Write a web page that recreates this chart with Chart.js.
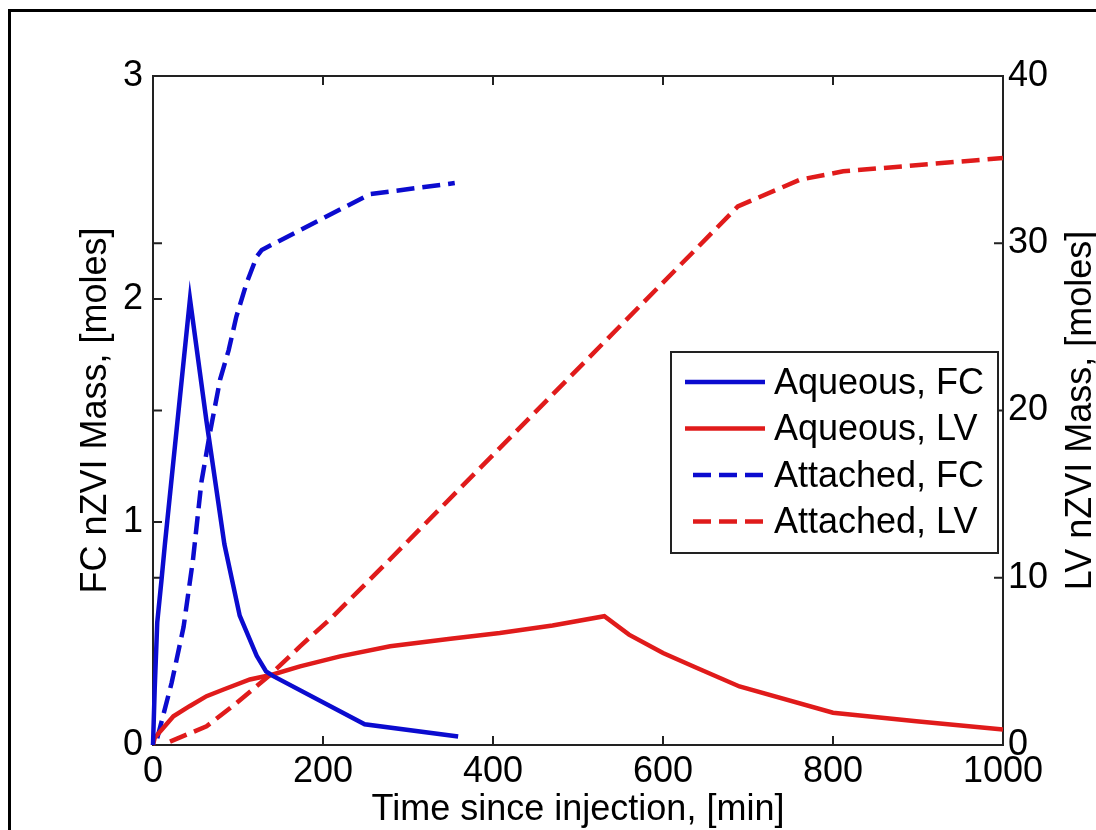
<!DOCTYPE html>
<html lang="en">
<head>
  <meta charset="UTF-8">
  <title>nZVI Mass vs Time</title>
  <script src="https://cdn.jsdelivr.net/npm/chart.js"></script>
  <style>
    body {
      margin: 0;
      background: #fff;
      overflow: hidden;
    }
    /* figure frame, only its left and top edges fall inside the window */
    .frame {
      position: absolute;
      left: 8px;
      top: 9px;
      width: 1100px;
      height: 840px;
      border: 3px solid #000;
    }
    canvas {
      position: absolute;
      left: 0;
      top: 0;
    }
  </style>
</head>
<body>
<div class="frame"></div>
<canvas id="chart" width="1096" height="830"></canvas>

<script>
  // Aqueous FC, left axis [moles]
  const fcAqueousTime = [0, 2, 5, 10, 14, 43.5, 63, 84, 102, 122, 133, 141, 249, 359];
  const fcAqueousMass = [0, 0.25, 0.55, 0.74, 0.9, 2.0, 1.45, 0.9, 0.58, 0.40, 0.33, 0.31, 0.093, 0.038];

  // Attached FC, left axis [moles]
  const fcAttachedTime = [5, 22, 36, 47, 57, 67, 79, 89, 98, 110, 122, 128, 255, 355];
  const fcAttachedMass = [0.03, 0.28, 0.53, 0.83, 1.18, 1.40, 1.64, 1.77, 1.92, 2.07, 2.19, 2.22, 2.47, 2.52];

  // Aqueous LV, right axis [moles]
  const lvAqueousTime = [0, 2, 24, 43, 63, 83, 114, 140, 173, 220, 279, 350, 408, 470, 531, 560, 600, 640, 690, 800, 898, 1000];
  const lvAqueousMass = [0, 0.43, 1.72, 2.32, 2.92, 3.32, 3.92, 4.2, 4.7, 5.3, 5.9, 6.35, 6.7, 7.15, 7.7, 6.6, 5.5, 4.6, 3.5, 1.93, 1.42, 0.93];

  // Attached LV, right axis [moles]
  const lvAttachedTime = [20, 63, 98, 138, 173, 212, 275, 632, 688, 761, 812, 1000];
  const lvAttachedMass = [0.2, 1.12, 2.5, 4.2, 5.9, 7.7, 10.9, 29.3, 32.2, 33.8, 34.3, 35.1];

  const timeTicks = [0, 200, 400, 600, 800, 1000];
  const fcTicks = [0, 1, 2, 3];
  const lvTicks = [0, 10, 20, 30, 40];

  const BLUE = "#0b0bcf";
  const RED = "#e01b1b";
  const FONT = "'Liberation Sans', Arial, sans-serif";

  Chart.defaults.font.family = FONT;
  Chart.defaults.color = "#000";

  function toPoints(xs, ys) {
    return xs.map((x, i) => ({ x, y: ys[i] }));
  }

  function series(label, xs, ys, color, dash, axis) {
    return {
      label,
      data: toPoints(xs, ys),
      borderColor: color,
      backgroundColor: color,
      borderWidth: 4.5,
      borderDash: dash,
      pointRadius: 0,
      tension: 0,
      fill: false,
      clip: false,
      yAxisID: axis
    };
  }

  // axis box plus inward tick marks on all four sides
  const axisBox = {
    id: "axisBox",
    beforeDatasetsDraw(chart) {
      const { ctx, chartArea: a, scales } = chart;
      const len = 9;
      ctx.save();
      ctx.strokeStyle = "#222";
      ctx.lineWidth = 2;
      ctx.beginPath();
      timeTicks.forEach(t => {
        const px = scales.x.getPixelForValue(t);
        if (px <= a.left + 1 || px >= a.right - 1) return;
        ctx.moveTo(px, a.bottom); ctx.lineTo(px, a.bottom - len);
        ctx.moveTo(px, a.top); ctx.lineTo(px, a.top + len);
      });
      fcTicks.forEach(v => {
        const py = scales.y.getPixelForValue(v);
        if (py <= a.top + 1 || py >= a.bottom - 1) return;
        ctx.moveTo(a.left, py); ctx.lineTo(a.left + len, py);
      });
      lvTicks.forEach(v => {
        const py = scales.y2.getPixelForValue(v);
        if (py <= a.top + 1 || py >= a.bottom - 1) return;
        ctx.moveTo(a.left, py); ctx.lineTo(a.left + len, py);
        ctx.moveTo(a.right, py); ctx.lineTo(a.right - len, py);
      });
      ctx.stroke();
      ctx.strokeRect(a.left, a.top, a.right - a.left, a.bottom - a.top);
      ctx.restore();
    }
  };

  // boxed legend inside the plot, right side
  const boxLegend = {
    id: "boxLegend",
    afterDatasetsDraw(chart) {
      const { ctx, chartArea: a } = chart;
      const w = 327, h = 201;
      const x = a.right - 5 - w;
      const y = a.top + 276;
      const rowH = 46.5;
      ctx.save();
      ctx.fillStyle = "#fff";
      ctx.fillRect(x, y, w, h);
      ctx.strokeStyle = "#222";
      ctx.lineWidth = 2;
      ctx.strokeRect(x, y, w, h);
      ctx.font = "36px " + FONT;
      ctx.textBaseline = "middle";
      ctx.textAlign = "left";
      chart.data.datasets.forEach((ds, i) => {
        const cy = y + 30 + i * rowH;
        ctx.strokeStyle = ds.borderColor;
        ctx.lineWidth = 4.5;
        ctx.setLineDash(ds.borderDash || []);
        ctx.lineDashOffset = ds.borderDash && ds.borderDash.length ? -8 : 0;
        ctx.beginPath();
        ctx.moveTo(x + 14, cy);
        ctx.lineTo(x + 94, cy);
        ctx.stroke();
        ctx.setLineDash([]);
        ctx.fillStyle = "#000";
        ctx.fillText(ds.label, x + 103, cy + 2);
      });
      ctx.restore();
    }
  };

  // right axis title reads bottom to top like the left one
  const rightTitle = {
    id: "rightTitle",
    afterDraw(chart) {
      const { ctx, chartArea: a } = chart;
      ctx.save();
      ctx.translate(1081, (a.top + a.bottom) / 2);
      ctx.rotate(-Math.PI / 2);
      ctx.font = "36px " + FONT;
      ctx.fillStyle = "#000";
      ctx.textAlign = "center";
      ctx.textBaseline = "middle";
      ctx.fillText("LV nZVI Mass, [moles]", 0, 0);
      ctx.restore();
    }
  };

  const tickFont = { size: 36, lineHeight: 1 };
  const noGrid = { display: false, drawTicks: false };
  const plainNumber = v => String(v);

  new Chart(document.getElementById("chart").getContext("2d"), {
    type: "line",
    data: {
      datasets: [
        series("Aqueous, FC", fcAqueousTime, fcAqueousMass, BLUE, [], "y"),
        series("Aqueous, LV", lvAqueousTime, lvAqueousMass, RED, [], "y2"),
        series("Attached, FC", fcAttachedTime, fcAttachedMass, BLUE, [18, 8], "y"),
        series("Attached, LV", lvAttachedTime, lvAttachedMass, RED, [18, 8], "y2")
      ]
    },
    options: {
      responsive: false,
      devicePixelRatio: 1,
      animation: false,
      layout: { padding: { top: 76, left: 0, right: 0, bottom: 0 } },
      plugins: {
        legend: { display: false },
        tooltip: { enabled: false }
      },
      scales: {
        x: {
          type: "linear",
          min: 0,
          max: 1000,
          afterBuildTicks: s => { s.ticks = timeTicks.map(v => ({ value: v })); },
          ticks: { font: tickFont, padding: 9, maxRotation: 0, autoSkip: false, callback: plainNumber },
          grid: noGrid,
          border: { display: false },
          title: {
            display: true,
            text: "Time since injection, [min]",
            font: { size: 36, lineHeight: 1 },
            padding: { top: 0, bottom: 2 }
          },
          afterFit: s => { s.height = 85; }
        },
        y: {
          position: "left",
          min: 0,
          max: 3,
          afterBuildTicks: s => { s.ticks = fcTicks.map(v => ({ value: v })); },
          ticks: { font: tickFont, padding: 10, autoSkip: false, callback: plainNumber },
          grid: noGrid,
          border: { display: false },
          title: {
            display: true,
            text: "FC nZVI Mass, [moles]",
            font: { size: 36, lineHeight: 1 },
            padding: { top: 78, bottom: 0 }
          },
          afterFit: s => { s.width = 153; }
        },
        y2: {
          position: "right",
          min: 0,
          max: 40,
          afterBuildTicks: s => { s.ticks = lvTicks.map(v => ({ value: v })); },
          ticks: { font: tickFont, padding: 5, autoSkip: false, callback: plainNumber },
          grid: noGrid,
          border: { display: false },
          afterFit: s => { s.width = 93; }
        }
      }
    },
    plugins: [axisBox, boxLegend, rightTitle]
  });
</script>
</body>
</html>
